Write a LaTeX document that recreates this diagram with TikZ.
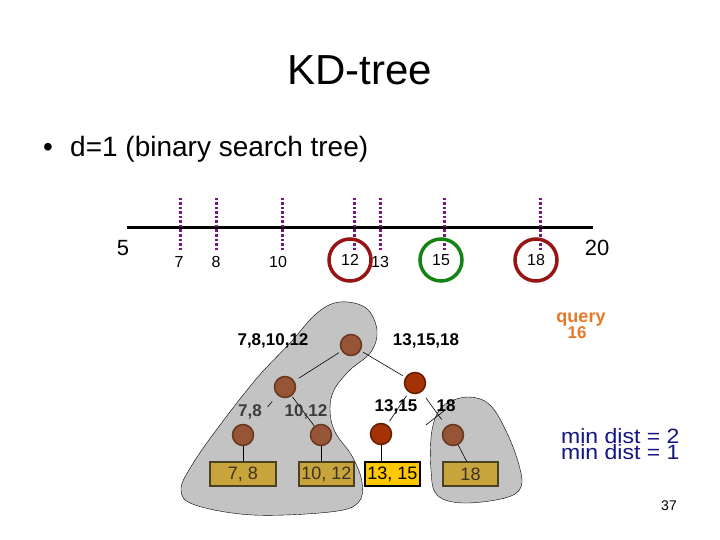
\documentclass[tikz,border=0pt]{standalone}
\usepackage{fontspec}
\setmainfont{Liberation Sans}
\definecolor{dotpurple}{RGB}{120,20,130}
\definecolor{ringred}{RGB}{150,20,20}
\definecolor{ringgreen}{RGB}{20,130,20}
\definecolor{blobgray}{RGB}{195,195,195}
\definecolor{nodebrown}{RGB}{150,85,55}
\definecolor{nodeedge}{RGB}{105,55,30}
\definecolor{hotbrown}{RGB}{165,50,5}
\definecolor{hotedge}{RGB}{100,30,0}
\definecolor{boxolive}{RGB}{200,165,60}
\definecolor{boxedge}{RGB}{75,65,35}
\definecolor{boxyellow}{RGB}{255,200,0}
\definecolor{queryorange}{RGB}{230,120,40}
\definecolor{distblue}{RGB}{20,20,130}
\newcommand{\pxfont}[1]{\fontsize{#1}{#1}\selectfont}
\begin{document}
\begin{tikzpicture}[x=1pt,y=-1pt,
    tick/.style={dotpurple,line width=3pt,dash pattern=on 2.5pt off 2pt},
    ticklabel/.style={font=\pxfont{16},inner sep=0pt,anchor=base},
    ring/.style={circle,line width=3.5pt,minimum size=42pt,inner sep=0pt,font=\pxfont{16}},
    kdnode/.style={circle,fill=nodebrown,draw=nodeedge,line width=1.5pt,minimum size=21pt,inner sep=0pt},
    hotnode/.style={kdnode,fill=hotbrown,draw=hotedge},
    leafbox/.style={draw=boxedge,fill=boxolive,line width=2pt,minimum width=55pt,minimum height=24pt,inner sep=0pt,font=\pxfont{18},text={rgb,255:red,60;green,50;blue,30}},
    setlabel/.style={font=\pxfont{17}\bfseries,anchor=base,inner sep=0pt},
    distlabel/.style={font=\pxfont{23},text=distblue,anchor=base west,inner sep=0pt},
    edge/.style={line width=0.6pt}]
  \useasboundingbox[fill=white] (0,0) rectangle (720,540);
  \node[font=\pxfont{42},anchor=base] (title) at (360,85) {KD-tree};
  \node[font=\pxfont{28},anchor=base] (bullet) at (48,157) {\textbullet};
  \node[font=\pxfont{28},anchor=base west,inner sep=0pt] (intro) at (70,157) {d=1 (binary search tree)};

  \draw[fill=blobgray] plot[smooth cycle,tension=0.6] coordinates {(340,302) (366,308) (377,330) (371,352) (350,370) (334,390) (330,410) (335,432) (352,456) (362,482) (358,503) (330,512) (253,515) (195,505) (181,490) (192,465) (220,425) (257,378) (290,343) (317,313)};
  \draw[fill=blobgray] plot[smooth cycle,tension=0.6] coordinates {(468,397) (490,405) (507,433) (519,465) (521,487) (505,498) (463,503) (437,495) (431,470) (432,430) (443,406)};
  \draw[edge] (426,425) -- (445,410);

  \draw[line width=3pt] (127,228) -- (593,228);
  \foreach \x in {180,216,282,354,380,444,540}
    \draw[tick] (\x,198) -- (\x,250);
  \node[font=\pxfont{22},anchor=base] (lo) at (123,255) {5};
  \node[font=\pxfont{22},anchor=base] (hi) at (597,255) {20};
  \node[ticklabel] (t7) at (179,267) {7};
  \node[ticklabel] (t8) at (216,267) {8};
  \node[ticklabel] (t10) at (278,267) {10};
  \node[ticklabel] (t13) at (380,267) {13};
  \node[ring,draw=ringred] (t12) at (350,260) {12};
  \node[ring,draw=ringgreen] (t15) at (441,260) {15};
  \node[ring,draw=ringred] (t18) at (536,260) {18};

  \node[kdnode] (root) at (351,345) {};
  \node[kdnode] (lft) at (285,387) {};
  \node[hotnode] (rgt) at (415,383) {};
  \node[kdnode] (l78) at (243,435) {};
  \node[kdnode] (l1012) at (321,435) {};
  \node[hotnode] (l1315) at (381,434) {};
  \node[kdnode] (l18) at (453,435) {};

  \draw[edge,shorten <=3pt,shorten >=5pt] (root) -- (lft);
  \draw[edge,shorten <=3pt,shorten >=3pt] (root) -- (rgt);
  \draw[edge,shorten <=8pt,shorten >=26pt] (lft) -- (l78);
  \draw[edge,shorten <=1pt] (lft) -- (l1012);
  \draw[edge,shorten <=4pt,shorten >=4pt] (rgt) -- (l1315);
  \draw[edge,shorten <=7pt,shorten >=8pt] (rgt) -- (l18);

  \node[leafbox,minimum width=66pt] (b78) at (243,474) {7, 8};
  \node[leafbox] (b1012) at (326.5,474) {10, 12};
  \node[leafbox,fill=boxyellow,draw=black,line width=2.5pt,text=black] (b1315) at (392.5,474) {13, 15};
  \node[leafbox] (b18) at (470.5,474) {18};
  \draw[edge] (l78) -- (b78);
  \draw[edge] (l1012) -- (l1012 |- b1012.north);
  \draw[edge] (l1315) -- (l1315 |- b1315.north);
  \draw[edge] (l18) -- (467,462);

  \node[setlabel] (s1) at (273,345) {7,8,10,12};
  \node[setlabel] (s2) at (426,345) {13,15,18};
  \node[setlabel,text={rgb,255:red,60;green,60;blue,60}] (s3) at (250,416) {7,8};
  \node[setlabel,text={rgb,255:red,60;green,60;blue,60}] (s4) at (306,416) {10,12};
  \node[setlabel] (s5) at (396,411) {13,15};
  \node[setlabel] (s6) at (446,411) {18};

  \node[font=\pxfont{18}\bfseries,text=queryorange,anchor=base,inner sep=0pt] (query) at (581,322) {query};
  \node[font=\pxfont{17}\bfseries,text=queryorange,anchor=base,inner sep=0pt] (qval) at (577,338) {16};
  \node[distlabel] (dist2) at (561,443) {\scalebox{1}[0.9]{min dist = 2}};
  \node[distlabel] (dist1) at (561,459) {\scalebox{1}[0.9]{min dist = 1}};
  \node[font=\pxfont{14},anchor=base,inner sep=0pt] (page) at (669,510) {37};
\end{tikzpicture}
\end{document}
